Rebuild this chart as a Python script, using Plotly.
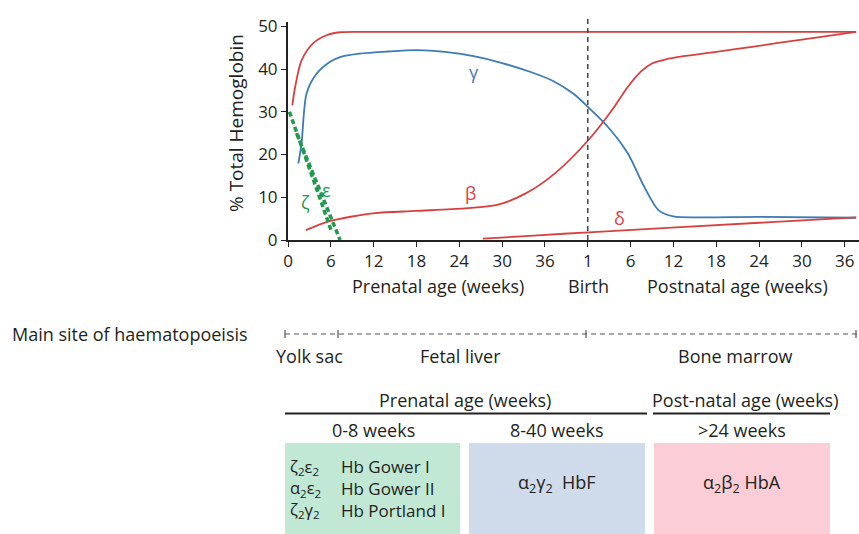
import plotly.graph_objects as go

# ---------------- data ----------------
tick_pos = [0, 6, 12, 18, 24, 30, 36, 42, 48, 54, 60, 66, 72, 78]
tick_text = ["0", "6", "12", "18", "24", "30", "36", "1", "6", "12", "18", "24", "30", "36"]
birth_x = 42

alpha_x = [0.6, 1.0, 1.9, 3.5, 5.4, 7.3, 10, 20, 40, 60, 79.6]
alpha_y = [31.5, 35.8, 42.0, 46.0, 47.9, 48.6, 48.7, 48.7, 48.7, 48.7, 48.7]

gamma_x = [1.45, 1.9, 2.6, 4.0, 5.9, 7.3, 10, 14, 18, 22, 26, 30, 34, 37, 40, 42.1, 44.8, 47.6, 49.9, 51.9, 54, 58, 66, 79.6]
gamma_y = [17.9, 22.6, 34.3, 38.9, 41.7, 42.8, 43.6, 44.1, 44.4, 44.0, 43.0, 41.4, 39.3, 37.3, 34.2, 31.0, 26.5, 20.3, 12.5, 7.0, 5.5, 5.3, 5.4, 5.2]

beta_x = [2.5, 5.6, 9, 12.2, 17.9, 24.8, 29.3, 33.3, 37.4, 42.1, 45.4, 47.6, 49.5, 51, 53, 55, 60, 65, 72, 79.6]
beta_y = [2.3, 4.3, 5.5, 6.3, 6.8, 7.4, 8.2, 10.9, 15.6, 23.4, 30.4, 35.8, 39.5, 41.3, 42.3, 42.9, 44.0, 45.2, 46.9, 48.7]

delta_x = [27.3, 35, 42.1, 55, 79.6]
delta_y = [0.3, 1.1, 1.8, 3.0, 5.3]

zeta_x = [0.2, 6.1]
zeta_y = [30, 2]
eps_x = [1.2, 7.3]
eps_y = [25, 0]

site_names = ["Yolk sac", "Fetal liver", "Bone marrow"]
period_names = ["Prenatal age (weeks)", "Post-natal age (weeks)"]
stage_names = ["0-8 weeks", "8-40 weeks", ">24 weeks"]
embryonic_chains = ["ζ<sub>2</sub>ε<sub>2</sub>", "α<sub>2</sub>ε<sub>2</sub>", "ζ<sub>2</sub>γ<sub>2</sub>"]
embryonic_names = ["Hb Gower I", "Hb Gower II", "Hb Portland I"]
fetal_text = "α<sub>2</sub>γ<sub>2</sub>  HbF"
adult_text = "α<sub>2</sub>β<sub>2</sub> HbA"

RED = "#d8403f"
BLUE = "#3d7ab8"
GREEN = "#1f9a4c"
TXT = "#231f20"
FONT = "Open Sans"

# pixel -> paper helpers (plot area: x 288..859, y 22..240)
L, W, B, H = 288, 571, 240, 218
def px(x):
    return (x - L) / W
def py(y):
    return (B - y) / H

fig = go.Figure()
sp = dict(shape="spline", smoothing=0.8)
fig.add_trace(go.Scatter(x=alpha_x, y=alpha_y, mode="lines", line=dict(color=RED, width=1.8, **sp), hoverinfo="skip"))
fig.add_trace(go.Scatter(x=gamma_x, y=gamma_y, mode="lines", line=dict(color=BLUE, width=1.8, **sp), hoverinfo="skip"))
fig.add_trace(go.Scatter(x=beta_x, y=beta_y, mode="lines", line=dict(color=RED, width=1.8, **sp), hoverinfo="skip"))
fig.add_trace(go.Scatter(x=delta_x, y=delta_y, mode="lines", line=dict(color=RED, width=1.8, shape="spline", smoothing=0.6), hoverinfo="skip"))
fig.add_trace(go.Scatter(x=zeta_x, y=zeta_y, mode="lines", line=dict(color=GREEN, width=3.5, dash="5px,3px"), hoverinfo="skip"))
fig.add_trace(go.Scatter(x=eps_x, y=eps_y, mode="lines", line=dict(color=GREEN, width=3.5, dash="5px,3px"), hoverinfo="skip"))

ann = []
def txt(x, y, t, size=18, color=TXT, xa="center", **kw):
    ann.append(dict(x=px(x), y=py(y), xref="paper", yref="paper", text=t, showarrow=False,
                    xanchor=xa, yanchor="middle", font=dict(size=size, color=color, family=FONT), **kw))

# curve labels
for t, x, y, c in [("α", 26, 51.4, RED), ("γ", 26, 39.3, BLUE), ("β", 25.6, 11, RED),
                   ("δ", 46.4, 5.2, RED), ("ε", 5.4, 11.6, GREEN), ("ζ", 2.4, 9.0, GREEN)]:
    ann.append(dict(x=x, y=y, xref="x", yref="y", text=t, showarrow=False, xanchor="center", yanchor="middle",
                    font=dict(size=18, color=c, family=FONT)))
# x sublabels
for t, x in [("Prenatal age (weeks)", 438), ("Birth", 588), ("Postnatal age (weeks)", 737)]:
    txt(x, 286, t)
# y title
txt(236, 123, "% Total Hemoglobin", size=19, textangle=-90)
# haematopoeisis
txt(10, 334, "Main site of haematopoeisis", xa="left")
for t, x in zip(site_names, [309, 460, 735]):
    txt(x, 356, t)
for t, x in zip(period_names, [465, 745]):
    txt(x, 400, t)
for t, x in zip(stage_names, [373, 557, 742]):
    txt(x, 430, t)
txt(288, 488.5, "<br>".join(embryonic_chains), size=16.5, xa="left", align="left")
txt(339, 488.5, "<br>".join(embryonic_names), size=17, xa="left", align="left")
txt(557, 483, fetal_text)
txt(742, 483, adult_text)

shapes = []
# birth line
shapes.append(dict(type="line", xref="x", yref="paper", x0=birth_x, x1=birth_x, y0=0, y1=py(15),
                   line=dict(color="#444", width=1.5, dash="5px,4px")))
# haematopoeisis dashed line
shapes.append(dict(type="line", xref="paper", yref="paper", x0=px(285), x1=px(857), y0=py(334), y1=py(334),
                   line=dict(color="#555", width=1.2, dash="5px,4px")))
for x in [285, 338, 586, 856]:
    shapes.append(dict(type="line", xref="paper", yref="paper", x0=px(x), x1=px(x), y0=py(330), y1=py(338),
                       line=dict(color="#555", width=1.2)))
# period lines
for x0, x1 in [(285, 647), (653, 830)]:
    shapes.append(dict(type="line", xref="paper", yref="paper", x0=px(x0), x1=px(x1), y0=py(413.5), y1=py(413.5),
                       line=dict(color="#222", width=2)))
# boxes
for (x0, x1), col in zip([(285, 460), (469, 645), (654, 830)], ["#c0e8d4", "#cfdaea", "#fbcdd6"]):
    shapes.append(dict(type="rect", xref="paper", yref="paper", x0=px(x0), x1=px(x1), y0=py(443), y1=py(534),
                       line=dict(width=0), fillcolor=col, layer="below"))

fig.update_layout(
    width=859, height=534,
    margin=dict(l=L, r=859 - L - W, t=22, b=534 - B),
    paper_bgcolor="white", plot_bgcolor="white",
    showlegend=False,
    annotations=ann, shapes=shapes,
    xaxis=dict(range=[0, 80], tickvals=tick_pos, ticktext=tick_text, showgrid=False, zeroline=False,
               showline=True, linecolor="#222", linewidth=2, ticks="outside", ticklen=5, tickcolor="#222",
               tickfont=dict(size=17, color=TXT, family=FONT)),
    yaxis=dict(range=[0, 51], tickvals=[0, 10, 20, 30, 40, 50], showgrid=False, zeroline=False,
               showline=True, linecolor="#222", linewidth=2, ticks="outside", ticklen=5, tickcolor="#222",
               tickfont=dict(size=17, color=TXT, family=FONT)),
)

fig.write_html("out.html", config={"displayModeBar": False},
               post_script="document.body.style.margin='0px';")
